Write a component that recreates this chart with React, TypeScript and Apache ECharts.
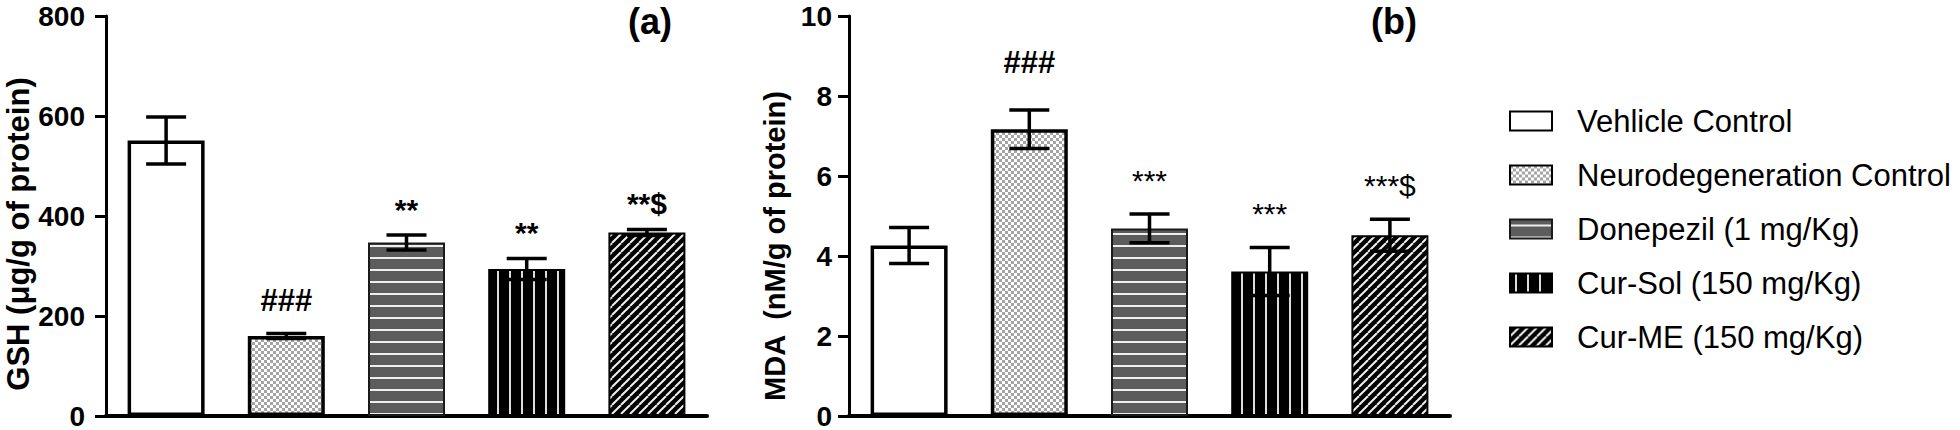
import React, { useEffect, useRef } from "react";
import * as echarts from "echarts";

// ---------- data ----------
const categories = [
  "Vehlicle Control",
  "Neurodegeneration Control",
  "Donepezil (1 mg/Kg)",
  "Cur-Sol (150 mg/Kg)",
  "Cur-ME (150 mg/Kg)",
];
const gshMeans = [551, 160, 347, 294, 367];
const gshErrors = [47, 5, 15, 21, 6];
const gshMarks = ["", "###", "**", "**", "**$"];
const gshAxis = { min: 0, max: 800, interval: 200 };
const gshTitle = "GSH (\u03bcg/g of protein)";

const mdaMeans = [4.26, 7.17, 4.69, 3.61, 4.52];
const mdaErrors = [0.45, 0.48, 0.36, 0.6, 0.4];
const mdaMarks = ["", "###", "***", "***", "***$"];
const mdaAxis = { min: 0, max: 10, interval: 2 };
const mdaTitle = "MDA  (nM/g of protein)";

const panelLabels = ["(a)", "(b)"];

const FONT = "'Liberation Sans', Arial, Helvetica, sans-serif";

function tile(w: number, h: number, draw: (ctx: CanvasRenderingContext2D) => void) {
  const c = document.createElement("canvas");
  c.width = w;
  c.height = h;
  const ctx = c.getContext("2d") as CanvasRenderingContext2D;
  draw(ctx);
  return { image: c.toDataURL(), repeat: "repeat", imageWidth: w, imageHeight: h } as any;
}

function makeStyles() {
  const checker = tile(6, 6, (ctx) => {
    ctx.fillStyle = "#ffffff";
    ctx.fillRect(0, 0, 6, 6);
    ctx.fillStyle = "#a4a4a4";
    ctx.fillRect(0, 0, 3, 3);
    ctx.fillRect(3, 3, 3, 3);
  });
  const hstripes = tile(12, 12, (ctx) => {
    ctx.fillStyle = "#5c5c5c";
    ctx.fillRect(0, 0, 12, 12);
    ctx.fillStyle = "#eeeeee";
    ctx.fillRect(0, 5, 12, 2);
  });
  const vstripes = tile(12, 12, (ctx) => {
    ctx.fillStyle = "#000000";
    ctx.fillRect(0, 0, 12, 12);
    ctx.fillStyle = "#dddddd";
    ctx.fillRect(5, 0, 2, 12);
  });
  const diag = tile(9, 9, (ctx) => {
    ctx.fillStyle = "#000000";
    ctx.fillRect(0, 0, 9, 9);
    ctx.strokeStyle = "#f0f0f0";
    ctx.lineWidth = 2;
    for (const o of [-9, 0, 9]) {
      ctx.beginPath();
      ctx.moveTo(o, 9);
      ctx.lineTo(o + 9, 0);
      ctx.stroke();
    }
  });
  return [
    { color: "#ffffff", borderColor: "#000000", borderWidth: 3.5 },
    { color: checker, borderColor: "#000000", borderWidth: 3.5 },
    { color: hstripes, borderColor: "#1a1a1a", borderWidth: 2 },
    { color: vstripes, borderColor: "#000000", borderWidth: 2 },
    { color: diag, borderColor: "#000000", borderWidth: 2 },
  ];
}

export default function App() {
  const ref = useRef<HTMLDivElement>(null);

  useEffect(() => {
    document.body.style.margin = "0";
    if (!ref.current) return;
    const chart = echarts.init(ref.current, null, { renderer: "svg" });
    const styles = makeStyles();

    const panels = [
      { means: gshMeans, errs: gshErrors, marks: gshMarks, axis: gshAxis, markOffset: 11, hashExtra: 7, starWeight: "bold", labelMargin: 21 },
      { means: mdaMeans, errs: mdaErrors, marks: mdaMarks, axis: mdaAxis, markOffset: 19, hashExtra: 13, starWeight: "normal", labelMargin: 17 },
    ];

    const series: any[] = [];
    panels.forEach((p, pi) => {
      categories.forEach((name, i) => {
        series.push({
          name,
          type: "bar",
          xAxisIndex: pi,
          yAxisIndex: pi,
          barWidth: 77,
          barGap: "-100%",
          z: 2,
          itemStyle: styles[i],
          data: p.means.map((v, j) => (j === i ? v : "-")),
        });
      });
      series.push({
        type: "custom",
        xAxisIndex: pi,
        yAxisIndex: pi,
        z: 5,
        silent: true,
        encode: { x: 0, y: 1 },
        data: p.means.map((m, i) => [i, m, p.errs[i]]),
        renderItem: (params: any, api: any) => {
          const idx = params.dataIndex;
          const x = api.value(0);
          const m = api.value(1);
          const e = api.value(2);
          const top = api.coord([x, m + e]);
          const bot = api.coord([x, m - e]);
          const cx = top[0];
          const half = 20;
          const ls = { stroke: "#000", lineWidth: 3.5 };
          const children: any[] = [
            { type: "line", shape: { x1: cx, y1: top[1], x2: cx, y2: bot[1] }, style: ls },
            { type: "line", shape: { x1: cx - half, y1: top[1], x2: cx + half, y2: top[1] }, style: ls },
            { type: "line", shape: { x1: cx - half, y1: bot[1], x2: cx + half, y2: bot[1] }, style: ls },
          ];
          const mark = p.marks[idx];
          if (mark) {
            const isHash = mark.indexOf("#") >= 0;
            const weight = isHash ? "bold" : p.starWeight;
            children.push({
              type: "text",
              x: cx,
              y: top[1] - p.markOffset - (isHash ? p.hashExtra : 0),
              style: {
                text: mark,
                fill: "#000",
                font: `${weight} ${isHash ? 31 : 30}px ${FONT}`,
                textAlign: "center",
                textVerticalAlign: "bottom",
              },
            });
          }
          return { type: "group", children };
        },
      });
    });

    const option: any = {
      animation: false,
      backgroundColor: "#ffffff",
      grid: [
        { left: 106, top: 16, width: 601, height: 400 },
        { left: 849, top: 16, width: 601, height: 400 },
      ],
      xAxis: [0, 1].map((gi) => ({
        type: "category",
        gridIndex: gi,
        data: categories,
        axisLine: { show: true, lineStyle: { color: "#000", width: 4 } },
        axisTick: { show: false },
        axisLabel: { show: false },
        splitLine: { show: false },
      })),
      yAxis: panels.map((p, gi) => ({
        type: "value",
        gridIndex: gi,
        min: p.axis.min,
        max: p.axis.max,
        interval: p.axis.interval,
        axisLine: { show: true, lineStyle: { color: "#000", width: 3 } },
        axisTick: { show: true, inside: false, length: 11, lineStyle: { color: "#000", width: 3 } },
        axisLabel: {
          show: true,
          color: "#000",
          fontFamily: FONT,
          fontWeight: "bold",
          fontSize: 28,
          margin: p.labelMargin,
        },
        splitLine: { show: false },
      })),
      legend: {
        show: true,
        orient: "vertical",
        left: 1504,
        top: 100,
        itemWidth: 42,
        itemHeight: 19,
        itemGap: 22,
        icon: "rect",
        selectedMode: false,
        data: categories,
        textStyle: {
          color: "#000",
          fontFamily: FONT,
          fontSize: 31,
          lineHeight: 32,
          padding: [0, 0, 0, 20],
        },
      },
      graphic: [
        {
          type: "text",
          x: 18,
          y: 234,
          rotation: Math.PI / 2,
          style: { text: gshTitle, fill: "#000", font: `bold 31px ${FONT}`, textAlign: "center", textVerticalAlign: "middle" },
        },
        {
          type: "text",
          x: 775,
          y: 246,
          rotation: Math.PI / 2,
          style: { text: mdaTitle, fill: "#000", font: `bold 29px ${FONT}`, textAlign: "center", textVerticalAlign: "middle" },
        },
        {
          type: "text",
          x: 650,
          y: 21,
          style: { text: panelLabels[0], fill: "#000", font: `bold 36px ${FONT}`, textAlign: "center", textVerticalAlign: "middle" },
        },
        {
          type: "text",
          x: 1394,
          y: 21,
          style: { text: panelLabels[1], fill: "#000", font: `bold 36px ${FONT}`, textAlign: "center", textVerticalAlign: "middle" },
        },
      ],
      series,
    };

    chart.setOption(option);
    return () => chart.dispose();
  }, []);

  return <div ref={ref} style={{ width: 1960, height: 430 }} />;
}
